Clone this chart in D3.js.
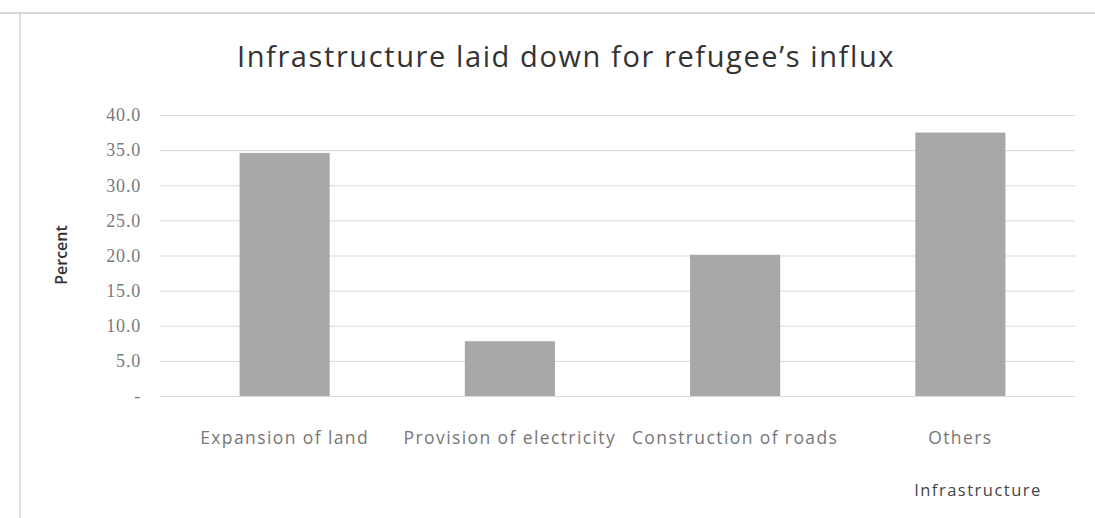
<html>
<head>
  <meta charset="UTF-8">
  <title>Infrastructure chart</title>
  <script src="https://d3js.org/d3.v7.min.js"></script>
  <style>
    body { margin: 0; background: #fff; }
  </style>
</head>
<body>
<svg id="svg1" width="1095" height="518"></svg>
<script>
  const categories = ["Expansion of land", "Provision of electricity", "Construction of roads", "Others"];
  const percents = [34.6, 7.8, 20.1, 37.5];
  const yTicks = [0, 5, 10, 15, 20, 25, 30, 35, 40];

  const svg1 = d3.select("#svg1");
  const margin = { top: 115, right: 22, bottom: 125, left: 172 };
  const width = +svg1.attr("width");
  const height = +svg1.attr("height");
  const plotWidth = width - margin.left - margin.right;
  const plotHeight = height - margin.top - margin.bottom + 3;

  // frame
  svg1.append("line").attr("x1", 0).attr("x2", width).attr("y1", 13).attr("y2", 13)
      .attr("stroke", "#c8c8c8").attr("stroke-width", 1.5);
  svg1.append("line").attr("x1", 20).attr("x2", 20).attr("y1", 13).attr("y2", height)
      .attr("stroke", "#d8d8d8").attr("stroke-width", 1.5);

  const plot = svg1.append("g")
      .attr("transform", `translate(${margin.left},${margin.top})`);

  const xScale = d3.scaleBand(categories, [0, plotWidth]).paddingInner(0.6).paddingOuter(0.3);
  const yScale = d3.scaleLinear([0, 40], [plotHeight, 0]);

  // gridlines
  plot.append("g")
      .attr("transform", "translate(-12,0)")
      .call(d3.axisLeft(yScale).tickValues(yTicks).tickFormat("").tickSize(-(plotWidth + 14)))
      .call(g => g.select(".domain").remove())
      .call(g => g.selectAll("line").attr("stroke", "#d9d9d9"));

  // y tick labels
  plot.append("g")
      .attr("transform", "translate(-12,0)")
      .call(d3.axisLeft(yScale).tickValues(yTicks).tickSize(0).tickPadding(19)
            .tickFormat(d => d === 0 ? "-" : d3.format(".1f")(d)))
      .call(g => g.select(".domain").remove())
      .call(g => g.selectAll("text")
          .attr("font-family", "'Liberation Serif', 'DejaVu Serif', serif")
          .attr("font-size", 18).attr("letter-spacing", 0.8).attr("fill", "#7a7a7a"));

  // bars
  plot.selectAll("rect.bar").data(percents).join("rect")
      .attr("class", "bar")
      .attr("x", (d, i) => xScale(categories[i]))
      .attr("width", xScale.bandwidth())
      .attr("y", d => yScale(d))
      .attr("height", d => plotHeight - yScale(d))
      .attr("fill", "#a8a8a8");

  // category labels
  plot.append("g")
      .attr("transform", `translate(0,${plotHeight})`)
      .call(d3.axisBottom(xScale).tickSize(0).tickPadding(36))
      .call(g => g.select(".domain").remove())
      .call(g => g.selectAll("text")
          .attr("font-family", "'Open Sans', sans-serif")
          .attr("font-size", 17.5).attr("letter-spacing", 1.4).attr("fill", "#777"));

  // title
  svg1.append("text")
      .attr("x", 566).attr("y", 67)
      .attr("text-anchor", "middle")
      .attr("font-family", "'Open Sans', sans-serif")
      .attr("font-size", 29).attr("letter-spacing", 1.6).attr("fill", "#333")
      .text("Infrastructure laid down for refugee’s influx");

  // axis titles
  svg1.append("text")
      .attr("transform", "translate(67,255) rotate(-90)")
      .attr("text-anchor", "middle")
      .attr("font-family", "'Open Sans', sans-serif")
      .attr("font-size", 16).attr("font-weight", 600).attr("fill", "#333")
      .text("Percent");

  svg1.append("text")
      .attr("x", 978).attr("y", 496)
      .attr("text-anchor", "middle")
      .attr("font-family", "'Open Sans', sans-serif")
      .attr("font-size", 16.5).attr("letter-spacing", 1.5).attr("fill", "#444")
      .text("Infrastructure");
</script>
</body>
</html>
